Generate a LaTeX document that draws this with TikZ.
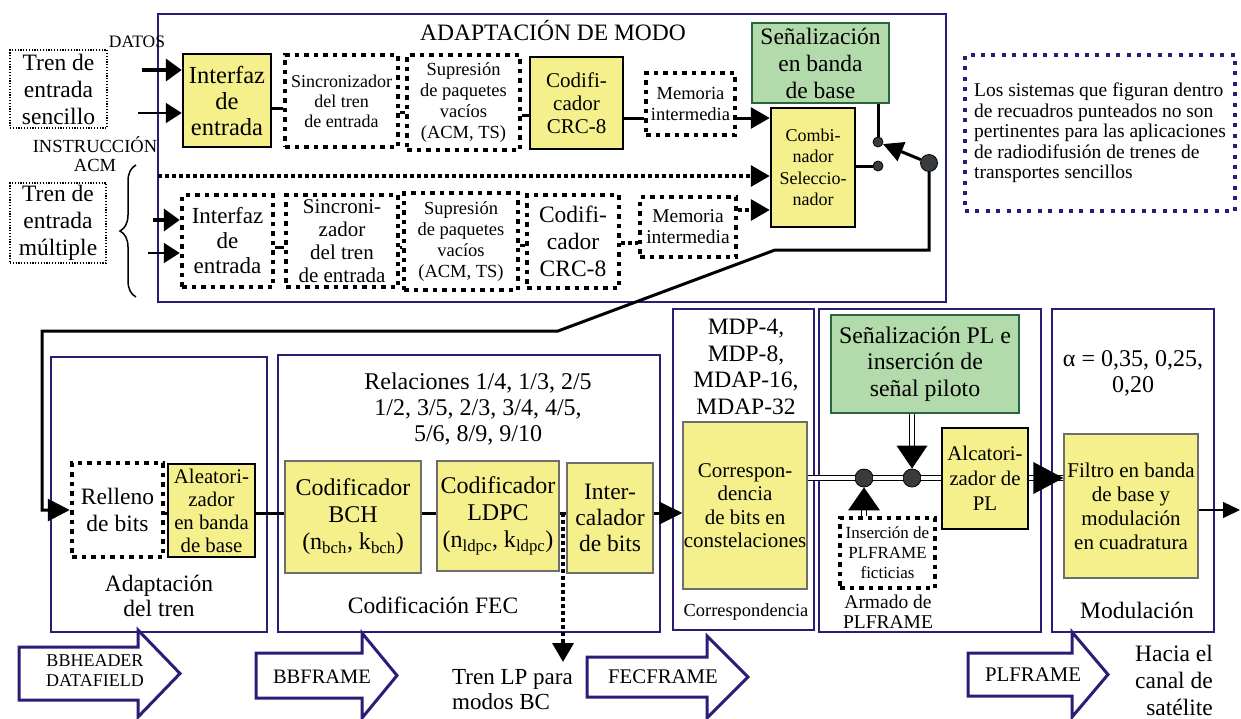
\documentclass[tikz,border=0pt]{standalone}
\usepackage{fontspec}
\setmainfont{Liberation Serif}
\usetikzlibrary{arrows.meta,decorations.pathreplacing}
\definecolor{navy}{RGB}{40,30,120}
\definecolor{yel}{RGB}{245,240,140}
\definecolor{grn}{RGB}{178,218,170}
\definecolor{grnb}{RGB}{40,100,60}
\definecolor{dotc}{RGB}{55,60,65}
\definecolor{grayb}{RGB}{110,110,110}
\newcommand{\fs}[2]{\fontsize{#1}{#2}\selectfont}
\newcommand{\bx}[7]{\node[#6, minimum width={#4-#2}, minimum height={#5-#3}] (#1) at ({(#2+#4)/2},{(#3+#5)/2}) {#7};}
\begin{document}
\begin{tikzpicture}[x=1pt,y=-1pt,
 box/.style={inner sep=0pt, align=center},
 lab/.style={inner sep=0pt, align=center},
 cont/.style={box, draw=navy, line width=1.5pt},
 yelk/.style={box, fill=yel, draw=black, line width=2.5pt},
 yelg/.style={box, fill=yel, draw=grayb, line width=1.2pt},
 grnbox/.style={box, fill=grn, draw=grnb, line width=1.5pt},
 dotbox/.style={box, draw=black, line width=4.5pt, dash pattern=on 4.5pt off 5pt},
 thindot/.style={box, draw=black, line width=1.2pt, dash pattern=on 1.2pt off 1.6pt},
 conn/.style={draw=black, line width=3pt},
 dconn/.style={draw=black, line width=3.5pt, dash pattern=on 3.5pt off 3.5pt},
 dbl/.style={draw=black, line width=1.8pt, double=white, double distance=3.2pt},
 dot/.style={circle, fill=dotc, draw=black, line width=0.8pt, inner sep=0pt},
 barrow/.style={draw=navy, line width=3pt, fill=white, line join=miter}
]
\useasboundingbox (0,0) rectangle (1241,718);

% ---------------- top container
\bx{adapt}{158}{14}{946}{302}{cont}{}
\node[lab, font=\fs{23.5}{26}] (tadapt) at (553,31) {ADAPTACIÓN DE MODO};

\bx{tsin}{10}{50}{107}{128}{thindot, font=\fs{23.5}{27}}{Tren de\\entrada\\sencillo}
\bx{tmul}{10}{183}{106}{263}{thindot, font=\fs{23.5}{27}}{Tren de\\entrada\\múltiple}
\node[lab, font=\fs{17.5}{18}] (datos) at (137,42) {DATOS};
\node[lab, font=\fs{18.5}{19}] (instr) at (95,154) {INSTRUCCIÓN\\ACM};
\draw[line width=1.5pt, decorate, decoration={brace, amplitude=16pt}] (136,297) -- (136,165);

% top row
\bx{if1}{183}{54}{271}{147}{yelk, font=\fs{24.5}{26}}{Interfaz\\de\\entrada}
\bx{sy1}{285}{55}{398}{147}{dotbox, font=\fs{18}{20}}{Sincronizador\\del tren\\de entrada}
\bx{su1}{407}{55}{520}{150}{dotbox, font=\fs{18.5}{20.7}}{Supresión\\de paquetes\\vacíos\\(ACM, TS)}
\bx{cr1}{530}{57}{623}{149}{yelk, font=\fs{21}{23}}{Codifi-\\cador\\CRC-8}
\bx{me1}{646}{73}{735}{135}{dotbox, font=\fs{18.5}{21}}{Memoria\\intermedia}
\bx{sbb}{752}{23}{889}{103}{grnbox, font=\fs{23.5}{27}}{Señalización\\en banda\\de base}
\bx{comb}{771}{108}{855}{227}{yelk, font=\fs{18}{21.5}}{Combi-\\nador\\Seleccio-\\nador}

% bottom row
\bx{if2}{182}{195}{273}{287}{dotbox, font=\fs{23}{25}}{Interfaz\\de\\entrada}
\bx{sy2}{286}{195}{398}{287}{dotbox, font=\fs{21}{23}}{Sincroni-\\zador\\del tren\\de entrada}
\bx{su2}{404}{193}{518}{290}{dotbox, font=\fs{18.5}{20.7}}{Supresión\\de paquetes\\vacíos\\(ACM, TS)}
\bx{cr2}{527}{195}{619}{288}{dotbox, font=\fs{23.5}{27}}{Codifi-\\cador\\CRC-8}
\bx{me2}{640}{197}{736}{257}{dotbox, font=\fs{19.5}{21}}{Memoria\\intermedia}

% note
\bx{note}{965}{55}{1235}{211}{box, align=left, draw=navy, line width=4pt, dash pattern=on 4pt off 6.4pt, font=\fs{19.5}{20.5}}{Los sistemas que figuran dentro\\de recuadros punteados no son\\pertinentes para las aplicaciones\\de radiodifusión de trenes de\\transportes sencillos}

% helper y-levels
\coordinate (c108) at (0,108);
\coordinate (c112) at (0,112);
\coordinate (c115) at (0,115);
\coordinate (c118) at (0,118);
\coordinate (c210) at (0,210);
\coordinate (c243) at (0,243);
\coordinate (c245) at (0,245);
\coordinate (c247) at (0,247);

% inputs
\coordinate (in1) at (142,70);
\coordinate (in2) at (138,113);
\coordinate (in3) at (153,220);
\coordinate (in4) at (148,253);
\draw[line width=4pt, -{Triangle[length=16pt,width=22pt]}] (in1) -- (if1.west |- in1);
\draw[line width=2pt, -{Triangle[length=16pt,width=20pt]}] (in2) -- (if1.west |- in2);
\draw[line width=4pt, -{Triangle[length=16pt,width=22pt]}] (in3) -- (if2.west |- in3);
\draw[line width=2pt, -{Triangle[length=16pt,width=20pt]}] (in4) -- (if2.west |- in4);

% top connectors
\draw[conn] (if1.east |- c108) -- (sy1.west |- c108);
\draw[conn] (sy1.east |- c112) -- (su1.west |- c112);
\draw[conn] (su1.east |- c115) -- (cr1.west |- c115);
\draw[conn] (cr1.east |- c118) -- (me1.west |- c118);
\draw[conn, -{Triangle[length=19pt,width=21pt]}] (me1.east |- c118) -- (comb.west |- c118);

% bottom connectors
\draw[conn] (if2.east |- c247) -- (sy2.west |- c247);
\draw[conn] (sy2.east |- c247) -- (su2.west |- c247);
\draw[conn] (su2.east |- c245) -- (cr2.west |- c245);
\draw[dconn] (cr2.east |- c243) -- (me2.west |- c243);
\draw[dconn, -{Triangle[length=19pt,width=21pt]}] (me2.east |- c210) -- (comb.west |- c210);
\coordinate (dl) at (158,176);
\draw[dconn, -{Triangle[length=19pt,width=21pt]}] (dl) -- (comb.west |- dl);

% switch
\node[dot, minimum size=10] (s1) at (878,142) {};
\node[dot, minimum size=10] (s2) at (878,166) {};
\node[dot, minimum size=17] (sw) at (929,163) {};
\draw[conn] (comb.east |- s2) -- (s2);
\draw[conn] (s1 |- sbb.south) -- (s1);
\draw[conn, -{Triangle[length=20pt,width=20pt]}] (sw) -- (s1);

% ---------------- bottom containers
\bx{adt}{51}{357}{267}{632}{cont}{}
\bx{fec}{278}{355}{660}{632}{cont}{}
\bx{cor}{673}{309}{814}{630}{cont}{}
\bx{arm}{819}{309}{1041}{632}{cont}{}
\bx{mod}{1052}{309}{1214}{632}{cont}{}

\node[lab, font=\fs{23.5}{25}] (ladt) at (159,596) {Adaptación\\del tren};
\node[lab, font=\fs{24}{26}] (lrel) at (478,409) {Relaciones 1/4, 1/3, 2/5\\1/2, 3/5, 2/3, 3/4, 4/5,\\5/6, 8/9, 9/10};
\node[lab, font=\fs{23.5}{26}] (lfec) at (433,605) {Codificación FEC};
\node[lab, font=\fs{23.5}{26.7}] (lmdp) at (746,367) {MDP-4,\\MDP-8,\\MDAP-16,\\MDAP-32};
\node[lab, font=\fs{18.4}{20}] (lcor) at (746,612) {Correspondencia};
\node[lab, font=\fs{19.5}{20}] (larm) at (888,612) {Armado de\\PLFRAME};
\node[lab, font=\fs{24}{26}] (lalpha) at (1133,373) {α = 0,35, 0,25,\\0,20};
\node[lab, font=\fs{23.5}{26}] (lmod) at (1137,610) {Modulación};

% inner boxes
\bx{rel}{72}{463}{163}{557}{dotbox, font=\fs{23.5}{27}}{Relleno\\de bits}
\bx{ale}{168}{464}{255}{557}{yelk, font=\fs{20.8}{23}}{Aleatori-\\zador\\en banda\\de base}
\bx{bch}{285}{461}{421}{573}{yelg, font=\fs{24}{27}}{Codificador\\BCH\\(n\textsubscript{bch}, k\textsubscript{bch})}
\bx{ldpc}{437}{461}{559}{571}{yelg, font=\fs{24}{27}}{Codificador\\LDPC\\(n\textsubscript{ldpc}, k\textsubscript{ldpc})}
\bx{itl}{567}{463}{653}{573}{yelg, font=\fs{23.5}{26}}{Inter-\\calador\\de bits}
\bx{cmap}{683}{422}{807}{589}{yelg, font=\fs{21}{23.3}}{Correspon-\\dencia\\de bits en\\constelaciones}
\bx{spl}{831}{315}{1019}{413}{grnbox, font=\fs{23.8}{26.5}}{Señalización PL e\\inserción de\\señal piloto}
\bx{ins}{840}{518}{935}{588}{dotbox, font=\fs{17}{20}}{Inserción de\\PLFRAME\\ficticias}
\bx{alp}{942}{428}{1028}{529}{yelk, font=\fs{20.8}{25}}{Alcatori-\\zador de\\PL}
\bx{fil}{1064}{434}{1198}{578}{yelg, font=\fs{21}{24}}{Filtro en banda\\de base y\\modulación\\en cuadratura}

% return path from switch
\coordinate (k1) at (929,250);
\coordinate (k2) at (775,250);
\coordinate (k3) at (558,331);
\coordinate (k4) at (42,331);
\draw[conn, -{Triangle[length=22pt,width=22pt]}] (sw) -- (k1) -- (k2) -- (k3) -- (k4) |- (rel.west);

% bottom connectors
\coordinate (c513) at (0,513);
\draw[conn] (rel.east |- c513) -- (ale.west |- c513);
\draw[conn] (ale.east |- c513) -- (bch.west |- c513);
\draw[conn] (bch.east |- c513) -- (ldpc.west |- c513);
\draw[conn] (ldpc.east |- c513) -- (itl.west |- c513);
\draw[conn, -{Triangle[length=23pt,width=22pt]}] (itl.east |- c513) -- (cmap.west |- c513);
\coordinate (lp0) at (563,513);
\coordinate (lp1) at (563,662);
\draw[dconn, -{Triangle[length=19pt,width=21pt]}] (lp0) -- (lp1);

% PL double-line chain
\node[dot, minimum size=18] (d1) at (864,478) {};
\node[dot, minimum size=18] (d2) at (912,478) {};
\draw[dbl] (cmap.east |- d1) -- (d1);
\draw[dbl] (d1) -- (d2);
\draw[dbl] (d2) -- (alp.west |- d2);
\draw[dbl] (alp.east |- d2) -- (fil.west |- d2);
\coordinate (ft) at (fil.west |- d2);
\fill (ft) -- ++(-30,-16) -- ++(0,32) -- cycle;
\draw[dbl] (d2 |- spl.south) -- ++(0,35);
\fill (d2.north) -- ++(-15.5,-23) -- ++(31,0) -- cycle;
\draw[dbl] (d1 |- ins.north) -- ++(0,-10);
\fill (d1.south) -- ++(-16,23) -- ++(32,0) -- cycle;
\coordinate (out) at (1240,510);
\draw[line width=1.2pt, -{Triangle[length=17pt,width=16pt]}] (fil.east |- out) -- (out);

% block arrows
\draw[barrow] (19,647) -- (138,647) -- (138,630) -- (180,673.5) -- (138,717) -- (138,700) -- (19,700) -- cycle;
\draw[barrow] (256,653) -- (362,653) -- (362,633) -- (397,675.5) -- (362,718) -- (362,698) -- (256,698) -- cycle;
\draw[barrow] (587,657) -- (707,657) -- (707,636) -- (748,677) -- (707,718) -- (707,697) -- (587,697) -- cycle;
\draw[barrow] (968,653) -- (1072,653) -- (1072,632) -- (1108,674.5) -- (1072,717) -- (1072,696) -- (968,696) -- cycle;
\node[lab, font=\fs{18}{20}] (bbh) at (95,671) {BBHEADER\\DATAFIELD};
\node[lab, font=\fs{20.5}{22}] (bbf) at (322,677) {BBFRAME};
\node[lab, font=\fs{20.8}{22}] (fecf) at (663,677) {FECFRAME};
\node[lab, font=\fs{20.8}{22}] (plf) at (1033,675) {PLFRAME};
\node[lab, align=left, anchor=west, font=\fs{23}{25}] (trlp) at (452,690) {Tren LP para\\modos BC};
\node[lab, align=right, anchor=east, font=\fs{23.5}{27}] (hacia) at (1213,680) {Hacia el\\canal de\\satélite};
\end{tikzpicture}
\end{document}
